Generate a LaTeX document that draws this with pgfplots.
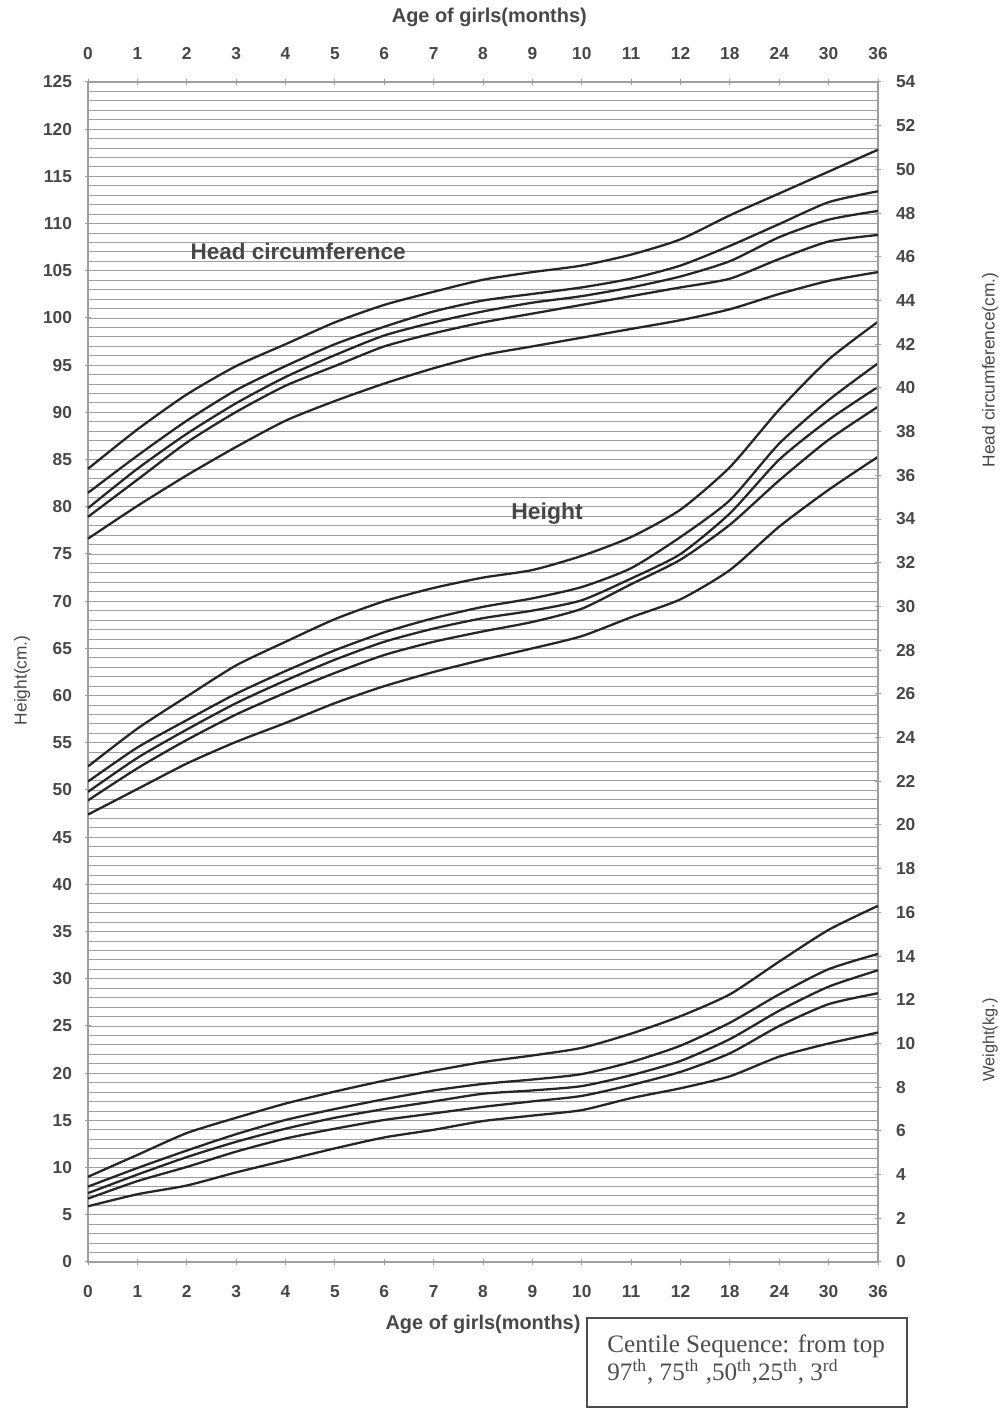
\documentclass[border=0pt]{standalone}
\usepackage{pgfplots}
\pgfplotsset{compat=1.18}
\usepackage{fontspec}
\setmainfont{Liberation Sans}
\newfontfamily\timesfont{Liberation Serif}
\definecolor{txt}{gray}{0.28}
\definecolor{grd}{gray}{0.62}
\definecolor{crv}{gray}{0.15}

\pgfplotsset{
  common/.style={
    at={(44bp,73bp)}, anchor=south west,
    width=395bp, height=590bp, scale only axis,
    xmin=0, xmax=16,
    xtick={0,...,16},
    xticklabels={0,1,2,3,4,5,6,7,8,9,10,11,12,18,24,30,36},
    tick label style={font=\fontsize{8.7}{10}\selectfont\bfseries, text=txt},
    /pgf/number format/assume math mode=true,
    axis line style={grd, line width=0.6pt},
    tick style={grd, line width=0.5pt},
    major tick length=3bp,
  },
  crvstyle/.style={crv, line width=1.15pt, smooth, tension=0.4, no marks},
}

\begin{document}
\begin{tikzpicture}
\useasboundingbox (0,0) rectangle (500bp,704bp);

% ---------- Left axis: Height (cm) ----------
\begin{axis}[common,
  ymin=0, ymax=125,
  ytick={0,5,...,125},
  minor y tick num=4,
  ymajorgrids, yminorgrids,
  grid style={grd, line width=0.45pt},
  minor grid style={grd, line width=0.45pt},
  minor tick length=0pt,
  xtick pos=both, ytick pos=left,
  xticklabel pos=lower,
  xticklabel style={yshift=-6bp, text height=6.5bp, text depth=0pt},
  yticklabel style={xshift=-3bp},
  tick align=center,
]
\addplot[crvstyle] coordinates {(0,52.5)(1,56.5)(2,59.9)(3,63.2)(4,65.7)(5,68.1)(6,70.0)(7,71.4)(8,72.5)(9,73.3)(10,74.8)(11,76.8)(12,79.7)(13,84.2)(14,90.3)(15,95.6)(16,99.6)};
\addplot[crvstyle] coordinates {(0,50.9)(1,54.5)(2,57.4)(3,60.2)(4,62.6)(5,64.8)(6,66.7)(7,68.2)(8,69.4)(9,70.3)(10,71.5)(11,73.5)(12,76.8)(13,80.7)(14,86.7)(15,91.3)(16,95.2)};
\addplot[crvstyle] coordinates {(0,49.8)(1,53.4)(2,56.4)(3,59.2)(4,61.6)(5,63.8)(6,65.7)(7,67.1)(8,68.2)(9,69.0)(10,70.1)(11,72.4)(12,75.0)(13,79.3)(14,85.0)(15,89.2)(16,92.7)};
\addplot[crvstyle] coordinates {(0,48.9)(1,52.3)(2,55.3)(3,58.0)(4,60.3)(5,62.4)(6,64.3)(7,65.7)(8,66.8)(9,67.8)(10,69.2)(11,71.8)(12,74.4)(13,78.1)(14,82.8)(15,87.1)(16,90.6)};
\addplot[crvstyle] coordinates {(0,47.4)(1,50.1)(2,52.8)(3,55.1)(4,57.1)(5,59.2)(6,61.0)(7,62.5)(8,63.8)(9,65.0)(10,66.3)(11,68.3)(12,70.2)(13,73.3)(14,77.9)(15,81.8)(16,85.3)};
\end{axis}

% ---------- Right axis: Head circumference (cm) and Weight (kg) ----------
\begin{axis}[common,
  ymin=0, ymax=54,
  ytick={0,2,...,54},
  axis x line*=top, axis y line*=right,
  xticklabel pos=upper,
  xticklabel style={yshift=6bp, text height=6.5bp, text depth=0pt},
  yticklabel style={xshift=4bp},
  tick align=center,
  clip=false,
]
% Head circumference
\addplot[crvstyle] coordinates {(0,36.3)(1,38.1)(2,39.7)(3,41.0)(4,42.0)(5,43.0)(6,43.8)(7,44.4)(8,44.95)(9,45.3)(10,45.6)(11,46.1)(12,46.8)(13,47.9)(14,48.9)(15,49.9)(16,50.9)};
\addplot[crvstyle] coordinates {(0,35.2)(1,36.9)(2,38.5)(3,39.9)(4,41.0)(5,42.0)(6,42.8)(7,43.5)(8,44.0)(9,44.3)(10,44.6)(11,45.0)(12,45.6)(13,46.5)(14,47.5)(15,48.5)(16,49.0)};
\addplot[crvstyle] coordinates {(0,34.5)(1,36.3)(2,37.9)(3,39.3)(4,40.5)(5,41.5)(6,42.4)(7,43.0)(8,43.5)(9,43.9)(10,44.2)(11,44.6)(12,45.1)(13,45.8)(14,46.9)(15,47.7)(16,48.1)};
\addplot[crvstyle] coordinates {(0,34.1)(1,35.8)(2,37.5)(3,38.9)(4,40.1)(5,41.0)(6,41.9)(7,42.5)(8,43.0)(9,43.4)(10,43.8)(11,44.2)(12,44.6)(13,45.0)(14,45.9)(15,46.7)(16,47.0)};
\addplot[crvstyle] coordinates {(0,33.1)(1,34.6)(2,36.0)(3,37.3)(4,38.5)(5,39.4)(6,40.2)(7,40.9)(8,41.5)(9,41.9)(10,42.3)(11,42.7)(12,43.1)(13,43.6)(14,44.3)(15,44.9)(16,45.3)};
% Weight
\addplot[crvstyle] coordinates {(0,3.9)(1,4.9)(2,5.9)(3,6.6)(4,7.25)(5,7.8)(6,8.3)(7,8.75)(8,9.15)(9,9.45)(10,9.8)(11,10.45)(12,11.25)(13,12.25)(14,13.75)(15,15.2)(16,16.3)};
\addplot[crvstyle] coordinates {(0,3.45)(1,4.3)(2,5.1)(3,5.85)(4,6.5)(5,7.0)(6,7.45)(7,7.85)(8,8.15)(9,8.35)(10,8.6)(11,9.15)(12,9.9)(13,10.95)(14,12.25)(15,13.4)(16,14.1)};
\addplot[crvstyle] coordinates {(0,3.15)(1,4.0)(2,4.8)(3,5.5)(4,6.1)(5,6.6)(6,7.0)(7,7.35)(8,7.7)(9,7.85)(10,8.05)(11,8.55)(12,9.2)(13,10.2)(14,11.5)(15,12.6)(16,13.35)};
\addplot[crvstyle] coordinates {(0,2.9)(1,3.7)(2,4.35)(3,5.05)(4,5.65)(5,6.1)(6,6.5)(7,6.8)(8,7.1)(9,7.35)(10,7.6)(11,8.1)(12,8.7)(13,9.55)(14,10.8)(15,11.8)(16,12.3)};
\addplot[crvstyle] coordinates {(0,2.55)(1,3.1)(2,3.5)(3,4.1)(4,4.65)(5,5.2)(6,5.7)(7,6.05)(8,6.45)(9,6.7)(10,6.95)(11,7.5)(12,7.95)(13,8.5)(14,9.4)(15,10.0)(16,10.5)};

% Labels
\node[font=\fontsize{11.3}{13}\selectfont\bfseries, text=txt] at (rel axis cs:0.266,0.856) {Head circumference};
\node[font=\fontsize{11.5}{13}\selectfont\bfseries, text=txt] at (rel axis cs:0.581,0.634) {Height};
\node[font=\fontsize{10}{12}\selectfont\bfseries, text=txt] at (rel axis cs:0.508,1.055) {Age of girls(months)};
\node[font=\fontsize{10}{12}\selectfont\bfseries, text=txt] at (rel axis cs:0.5,-0.0525) {Age of girls(months)};
\node[font=\fontsize{8.7}{10}\selectfont, text=txt, rotate=90] at (rel axis cs:-0.0835,0.493) {Height(cm.)};
\node[font=\fontsize{8.7}{10}\selectfont, text=txt, rotate=90] at (rel axis cs:1.142,0.756) {Head circumference(cm.)};
\node[font=\fontsize{8.2}{10}\selectfont, text=txt, rotate=90] at (rel axis cs:1.142,0.188) {Weight(kg.)};
\end{axis}

% Centile box
\draw[black!70, line width=0.6pt] (293.5bp,0.5bp) rectangle (453.5bp,45bp);
\node[anchor=base west, font=\timesfont\fontsize{12.6}{14}\selectfont, text=black!70, inner sep=0pt] at (303.5bp,28bp) {Centile Sequence: from top};
\node[anchor=base west, font=\timesfont\fontsize{12.6}{14}\selectfont, text=black!70, inner sep=0pt] at (303.5bp,14bp) {97\textsuperscript{th}, 75\textsuperscript{th} ,50\textsuperscript{th},25\textsuperscript{th}, 3\textsuperscript{rd}};
\end{tikzpicture}
\end{document}
